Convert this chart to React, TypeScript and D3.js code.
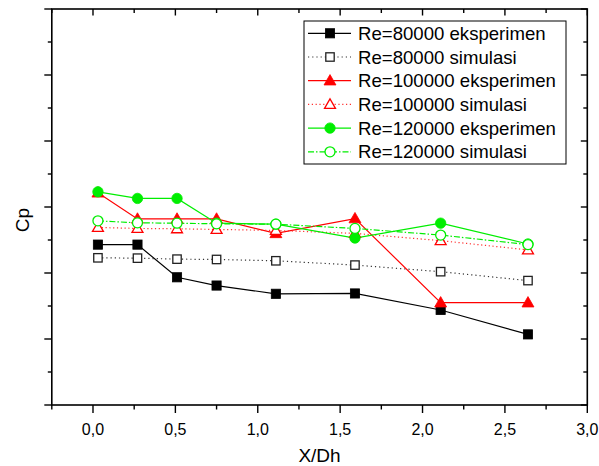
import React from "react";
import * as d3 from "d3";

// Measurement stations along the duct (X/Dh)
const xPositions = [0.03, 0.27, 0.51, 0.75, 1.11, 1.59, 2.11, 2.64];

// Pressure coefficient readings per case
const re80Exp = [0.486, 0.486, 0.387, 0.362, 0.337, 0.338, 0.288, 0.214];
const re80Sim = [0.446, 0.445, 0.442, 0.441, 0.437, 0.424, 0.404, 0.377];
const re100Exp = [0.643, 0.564, 0.564, 0.564, 0.52, 0.565, 0.31, 0.31];
const re100Sim = [0.538, 0.535, 0.534, 0.532, 0.529, 0.52, 0.498, 0.47];
const re120Exp = [0.646, 0.626, 0.626, 0.551, 0.548, 0.506, 0.551, 0.488];
const re120Sim = [0.558, 0.552, 0.551, 0.549, 0.548, 0.535, 0.515, 0.486];

const seriesNames = [
  "Re=80000 eksperimen",
  "Re=80000 simulasi",
  "Re=100000 eksperimen",
  "Re=100000 simulasi",
  "Re=120000 eksperimen",
  "Re=120000 simulasi",
];

const xTickLabels = ["0,0", "0,5", "1,0", "1,5", "2,0", "2,5", "3,0"];

type Marker = "square" | "triangle" | "circle";
interface Series {
  name: string;
  values: number[];
  color: string;
  markerStroke: string;
  marker: Marker;
  filled: boolean;
  dash: string | undefined;
  lineColor: string;
}

const series: Series[] = [
  { name: seriesNames[0], values: re80Exp, color: "#000", markerStroke: "#000", marker: "square", filled: true, dash: undefined, lineColor: "#000" },
  { name: seriesNames[1], values: re80Sim, color: "#000", markerStroke: "#222", marker: "square", filled: false, dash: "1.2 3", lineColor: "#333" },
  { name: seriesNames[2], values: re100Exp, color: "#ff0000", markerStroke: "#ff0000", marker: "triangle", filled: true, dash: undefined, lineColor: "#ff0000" },
  { name: seriesNames[3], values: re100Sim, color: "#ff0000", markerStroke: "#ff0000", marker: "triangle", filled: false, dash: "1.2 2.6", lineColor: "#ff3030" },
  { name: seriesNames[4], values: re120Exp, color: "#00ee00", markerStroke: "#00ee00", marker: "circle", filled: true, dash: undefined, lineColor: "#00ee00" },
  { name: seriesNames[5], values: re120Sim, color: "#00ee00", markerStroke: "#00ee00", marker: "circle", filled: false, dash: "6 2 1.5 2", lineColor: "#00ee00" },
];

const W = 599;
const H = 466;
const left = 51.8;
const right = 587.3;
const top = 9;
const bottom = 405;

const x = d3.scaleLinear().domain([-0.25, 3.0]).range([left, right]);
const y = d3.scaleLinear().domain([0, 1.2]).range([bottom, top]);

const font = "Arial, 'Liberation Sans', Helvetica, sans-serif";

function MarkerShape({ s, cx, cy }: { s: Series; cx: number; cy: number }) {
  const fill = s.filled ? s.color : "#fff";
  const sw = s.filled ? 0.8 : 1.3;
  if (s.marker === "square") {
    const h = s.filled ? 4.6 : 4.2;
    return <rect x={cx - h} y={cy - h} width={2 * h} height={2 * h} fill={fill} stroke={s.markerStroke} strokeWidth={sw} />;
  }
  if (s.marker === "triangle") {
    const tri = d3.symbol().type(d3.symbolTriangle).size(s.filled ? 62 : 52)();
    return <path d={tri || ""} transform={`translate(${cx},${cy + 0.8})`} fill={fill} stroke={s.markerStroke} strokeWidth={sw} />;
  }
  return <circle cx={cx} cy={cy} r={s.filled ? 5.2 : 5} fill={fill} stroke={s.markerStroke} strokeWidth={sw} />;
}

export default function App() {
  const line = d3
    .line<number>()
    .x((_, i) => x(xPositions[i]))
    .y((v) => y(v));

  const majorX = d3.range(0, 3.0001, 0.5);
  const minorX = d3.range(-0.25, 3.0, 0.5);
  const majorY = d3.range(0, 1.2001, 0.2);
  const minorY = d3.range(0.1, 1.2, 0.2);

  const legendX = 304;
  const legendY = 21;
  const rowH = 23.7;

  return (
    <div style={{ position: "absolute", left: 0, top: 0 }}>
      <svg width={W} height={H} style={{ display: "block", background: "#fff" }}>
        {/* data lines */}
        {series.map((s) => (
          <path
            key={`l-${s.name}`}
            d={line(s.values) || ""}
            fill="none"
            stroke={s.lineColor}
            strokeWidth={1.2}
            strokeDasharray={s.dash}
          />
        ))}
        {/* markers */}
        {series.map((s) => (
          <g key={`m-${s.name}`}>
            {s.values.map((v, i) => (
              <MarkerShape key={i} s={s} cx={x(xPositions[i])} cy={y(v)} />
            ))}
          </g>
        ))}

        {/* frame */}
        <rect x={left} y={top} width={right - left} height={bottom - top} fill="none" stroke="#000" strokeWidth={1.6} />

        {/* bottom axis ticks (outward) */}
        {majorX.map((t) => (
          <line key={`bx${t}`} x1={x(t)} x2={x(t)} y1={bottom} y2={bottom + 8} stroke="#000" strokeWidth={1.4} />
        ))}
        {minorX.map((t) => (
          <line key={`bmx${t}`} x1={x(t)} x2={x(t)} y1={bottom} y2={bottom + 4.5} stroke="#000" strokeWidth={1.4} />
        ))}
        {/* top axis ticks (inward) */}
        {majorX.map((t) => (
          <line key={`tx${t}`} x1={x(t)} x2={x(t)} y1={top} y2={top + 6.5} stroke="#000" strokeWidth={1.4} />
        ))}
        {minorX.map((t) => (
          <line key={`tmx${t}`} x1={x(t)} x2={x(t)} y1={top} y2={top + 4} stroke="#000" strokeWidth={1.4} />
        ))}
        {/* left axis ticks (outward) */}
        {majorY.map((t) => (
          <line key={`ly${t}`} x1={left - 7.5} x2={left} y1={y(t)} y2={y(t)} stroke="#000" strokeWidth={1.4} />
        ))}
        {minorY.map((t) => (
          <line key={`lmy${t}`} x1={left - 4} x2={left} y1={y(t)} y2={y(t)} stroke="#000" strokeWidth={1.4} />
        ))}
        {/* right axis ticks (inward) */}
        {majorY.map((t) => (
          <line key={`ry${t}`} x1={right - 6.5} x2={right} y1={y(t)} y2={y(t)} stroke="#000" strokeWidth={1.4} />
        ))}
        {minorY.map((t) => (
          <line key={`rmy${t}`} x1={right - 4} x2={right} y1={y(t)} y2={y(t)} stroke="#000" strokeWidth={1.4} />
        ))}

        {/* x tick labels */}
        {majorX.map((t, i) => (
          <text key={`xl${t}`} x={x(t)} y={435} textAnchor="middle" fontFamily={font} fontSize={16} fill="#000">
            {xTickLabels[i]}
          </text>
        ))}

        {/* axis titles */}
        <text x={(left + right) / 2} y={462} textAnchor="middle" fontFamily={font} fontSize={19} fill="#000">
          X/Dh
        </text>
        <text
          transform={`translate(29,${(top + bottom) / 2 + 13}) rotate(-90)`}
          textAnchor="middle"
          fontFamily={font}
          fontSize={19}
          fill="#000"
        >
          Cp
        </text>

        {/* legend */}
        <rect x={legendX} y={legendY} width={262} height={143} fill="#fff" stroke="#000" strokeWidth={1} />
        {series.map((s, i) => {
          const cy = legendY + 12.3 + i * rowH;
          return (
            <g key={`lg-${s.name}`}>
              <line x1={legendX + 4} x2={legendX + 47} y1={cy} y2={cy} stroke={s.lineColor} strokeWidth={1.2} strokeDasharray={s.dash} />
              <MarkerShape s={s} cx={legendX + 26} cy={cy} />
              <text x={legendX + 54} y={cy} dy="0.36em" fontFamily={font} fontSize={18.6} fill="#000">
                {s.name}
              </text>
            </g>
          );
        })}
      </svg>
    </div>
  );
}
